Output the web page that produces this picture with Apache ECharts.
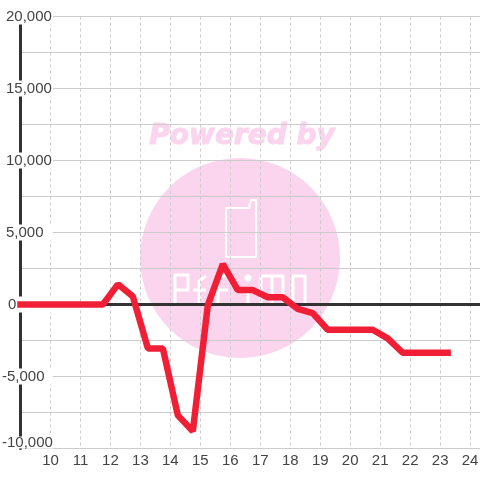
<!DOCTYPE html>
<html><head><meta charset="utf-8">
<style>html,body{margin:0;padding:0;background:#fff}#c{width:480px;height:480px}</style>
<script src="https://cdn.jsdelivr.net/npm/echarts@6/dist/echarts.min.js"></script>
</head><body><div id="c"></div>
<script>
const hours = [9,9.25,9.75,10.25,10.75,11.25,11.75,12.25,12.75,13.25,13.75,14.25,14.75,15.25,15.75,16.25,16.75,17.25,17.75,18.25,18.75,19.25,19.75,20.25,20.75,21.25,21.75,22.25,22.75,23.25];
const values = [0,0,0,0,0,0,0,1400,550,-3050,-3050,-7700,-8800,-50,2800,1000,1000,500,500,-300,-600,-1750,-1750,-1750,-1750,-2350,-3350,-3350,-3350,-3350];
const chart = echarts.init(document.getElementById('c'),null,{renderer:'canvas'});
const font = '"Liberation Sans"';
const logoStroke = {fill:'none',stroke:'#fff',lineWidth:2,lineJoin:'round'};
const letterStroke = {fill:'none',stroke:'#fff',lineWidth:3,lineJoin:'round'};
const logoPaths = [
  [[175,305],[175,275],[188,275],[188,290],[175,290]],
  [[199,305],[199,281],[206,276]],[[193,290],[206,290]],
  [[218,305],[218,276],[229,276]],[[218,290],[228,290]],
  [[248,290],[248,305]],
  [[261,305],[261,276],[283,276],[283,305]],[[272,276],[272,305]],
  [[293,305],[293,276],[305,276],[305,305]]
];
chart.setOption({
  animation:false,
  backgroundColor:'#fff',
  grid:{left:20.5,right:0,top:16.5,bottom:31.5,outerBoundsMode:'none'},
  xAxis:{type:'value',min:9,max:24.33,interval:1,
    axisLine:{show:true,onZero:true,lineStyle:{color:'#333',width:3}},
    axisTick:{show:false},
    axisLabel:{show:true,color:'#444',fontFamily:font,fontSize:15,margin:5,showMinLabel:false,showMaxLabel:false,
      formatter:v=>Number.isInteger(v)?String(v):''},
    splitLine:{show:true,lineStyle:{color:'#ccc',width:1,type:[3,3]}}},
  yAxis:{type:'value',min:-10000,max:20000,interval:2500,
    axisLine:{show:true,onZero:false,lineStyle:{color:'#333',width:3}},
    axisTick:{show:false},
    axisLabel:{show:true,inside:true,margin:-20.5,align:'left',verticalAlignMinLabel:'bottom',color:'#444',fontFamily:font,fontSize:15,
      formatter:v=>{
        if(v%5000!==0) return '';
        const s=v.toLocaleString('en-US');
        if(v===-10000) return '{m|'+s+'}';
        if(v===0) return '{z|'+s+'}';
        return v<0?'{n|'+s+'}':'{p|'+s+'}';
      },
      rich:{
        p:{backgroundColor:'#fff',width:47,height:16,padding:[0,0,0,6],color:'#444',fontFamily:font,fontSize:15},
        z:{backgroundColor:'#fff',width:45,height:16,padding:[0,0,0,8],color:'#444',fontFamily:font,fontSize:15},
        n:{backgroundColor:'#fff',width:51,height:16,padding:[0,0,0,2],color:'#444',fontFamily:font,fontSize:15},
        m:{backgroundColor:'#fff',width:51,height:12,padding:[0,0,0,2],color:'#444',fontFamily:font,fontSize:15}
      }},
    splitLine:{show:true,lineStyle:{color:'#ccc',width:1}}},
  graphic:[
    {type:'circle',z:-1,silent:true,shape:{cx:240,cy:258,r:100},style:{fill:'#fbd5ee'}},
    {type:'text',z:-1,silent:true,x:242,y:137,style:{text:'Powered by',fill:'#fbd5ee',stroke:'#fbd5ee',lineWidth:1,font:'italic bold 28px "DejaVu Sans"',align:'center',verticalAlign:'middle'}},
    {type:'polygon',z:-1,silent:true,shape:{points:[[226,208],[249,208],[251,200],[256,200],[256,257],[226,257]]},style:logoStroke},
    {type:'circle',z:-1,silent:true,shape:{cx:248,cy:278,r:3.5},style:{fill:'#fff'}}
  ].concat(logoPaths.map(p=>({type:'polyline',z:-1,silent:true,shape:{points:p},style:letterStroke}))),
  series:[{type:'line',data:hours.map((h,i)=>[h,values[i]]),symbol:'none',clip:false,z:5,
    lineStyle:{color:'#f01f35',width:6.5,cap:'square',join:'bevel'}}]
});
</script></body></html>
